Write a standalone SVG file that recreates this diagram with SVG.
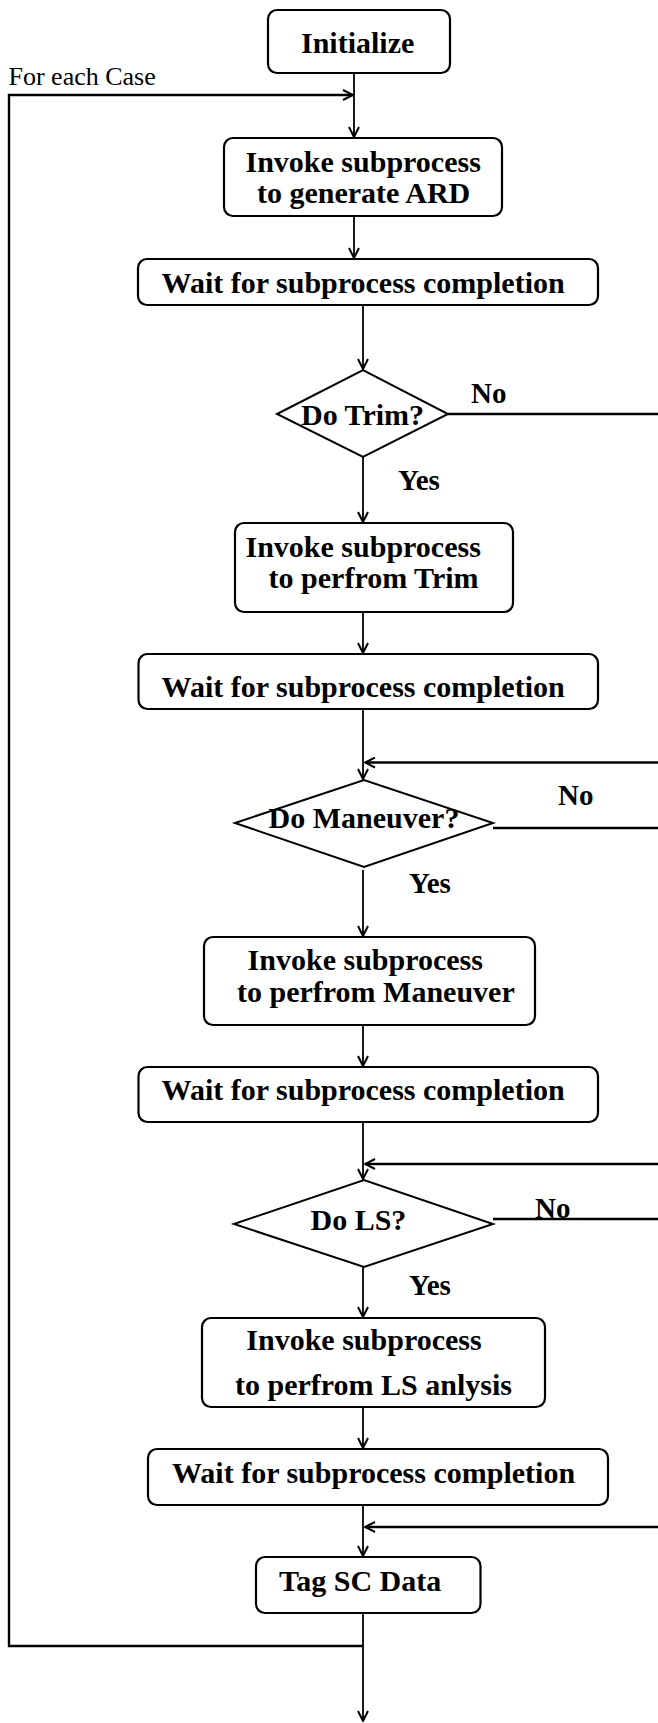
<svg xmlns="http://www.w3.org/2000/svg" width="658" height="1723" viewBox="0 0 658 1723">
<style>
.box{fill:#fff;stroke:#000;stroke-width:2.2}
.dia{fill:#fff;stroke:#000;stroke-width:2}
.t{font-family:"Liberation Serif","Times New Roman",serif;font-weight:bold;font-size:30px;fill:#000}
.lbl{font-family:"Liberation Serif","Times New Roman",serif;font-weight:bold;font-size:29px;fill:#000}
.reg{font-family:"Liberation Serif","Times New Roman",serif;font-size:26px;fill:#000}
.c{fill:none;stroke:#000;stroke-width:1.8}
.cb{fill:none;stroke:#000;stroke-width:2.4}
</style>
<defs>
<marker id="ah" markerWidth="12" markerHeight="12" refX="11" refY="6" orient="auto" markerUnits="userSpaceOnUse">
<path d="M1,1 L11,6 L1,11" fill="none" stroke="#000" stroke-width="2"/>
</marker>
</defs>
<rect width="658" height="1723" fill="#fff"/>
<g id="connectors">
<line class="c" x1="354" y1="74" x2="354" y2="137" marker-end="url(#ah)"/>
<polyline class="cb" points="363,1646 9,1646 9,95 353,95" marker-end="url(#ah)"/>
<line class="c" x1="354" y1="216" x2="354" y2="258" marker-end="url(#ah)"/>
<line class="c" x1="363" y1="305" x2="363" y2="369" marker-end="url(#ah)"/>
<line class="c" x1="363" y1="457" x2="363" y2="522" marker-end="url(#ah)"/>
<line class="cb" x1="448" y1="414" x2="658" y2="414"/>
<line class="c" x1="363" y1="612" x2="363" y2="653" marker-end="url(#ah)"/>
<line class="c" x1="363" y1="709" x2="363" y2="779" marker-end="url(#ah)"/>
<line class="cb" x1="658" y1="762.5" x2="365" y2="762.5" marker-end="url(#ah)"/>
<line class="cb" x1="493" y1="828" x2="658" y2="828"/>
<line class="c" x1="363" y1="870" x2="363" y2="936" marker-end="url(#ah)"/>
<line class="c" x1="363" y1="1025" x2="363" y2="1066" marker-end="url(#ah)"/>
<line class="c" x1="363" y1="1122" x2="363" y2="1179" marker-end="url(#ah)"/>
<line class="cb" x1="658" y1="1164" x2="365" y2="1164" marker-end="url(#ah)"/>
<line class="cb" x1="493" y1="1219" x2="658" y2="1219"/>
<line class="c" x1="363" y1="1267" x2="363" y2="1317" marker-end="url(#ah)"/>
<line class="c" x1="363" y1="1407" x2="363" y2="1448" marker-end="url(#ah)"/>
<line class="c" x1="363" y1="1505" x2="363" y2="1556" marker-end="url(#ah)"/>
<line class="cb" x1="658" y1="1527" x2="365" y2="1527" marker-end="url(#ah)"/>
<line class="c" x1="363" y1="1613" x2="363" y2="1721" marker-end="url(#ah)"/>
</g>
<text class="reg" x="8.5" y="85">For each Case</text>
<g id="initialize">
<rect class="box" x="268" y="10" width="182" height="63" rx="9"/>
<text class="t" x="301" y="53">Initialize</text>
</g>
<g id="invoke-ard">
<rect class="box" x="224" y="138" width="278" height="78" rx="9"/>
<text class="t" x="245.5" y="172">Invoke subprocess</text>
<text class="t" x="257" y="203">to generate ARD</text>
</g>
<g id="wait-1">
<rect class="box" x="138" y="259" width="460" height="46" rx="9"/>
<text class="t" x="161.6" y="293">Wait for subprocess completion</text>
</g>
<g id="do-trim">
<polygon class="dia" points="277,414 363,370 448,414 363,457"/>
<text class="t" x="301" y="425">Do Trim?</text>
<text class="lbl" x="471" y="403">No</text>
<text class="lbl" x="398" y="490">Yes</text>
</g>
<g id="invoke-trim">
<rect class="box" x="235" y="523" width="278" height="89" rx="9"/>
<text class="t" x="245.5" y="557">Invoke subprocess</text>
<text class="t" x="268.6" y="588">to perfrom Trim</text>
</g>
<g id="wait-2">
<rect class="box" x="138.5" y="654" width="459.5" height="55" rx="9"/>
<text class="t" x="161.6" y="697">Wait for subprocess completion</text>
</g>
<g id="do-maneuver">
<polygon class="dia" points="235,823 364,780 493,823 364,867"/>
<text class="t" x="268.6" y="828">Do Maneuver?</text>
<text class="lbl" x="558" y="805">No</text>
<text class="lbl" x="409" y="893">Yes</text>
</g>
<g id="invoke-maneuver">
<rect class="box" x="204" y="937" width="331" height="88" rx="9"/>
<text class="t" x="247.6" y="970">Invoke subprocess</text>
<text class="t" x="237" y="1002">to perfrom Maneuver</text>
</g>
<g id="wait-3">
<rect class="box" x="138.5" y="1067" width="459.5" height="55" rx="9"/>
<text class="t" x="161.6" y="1100">Wait for subprocess completion</text>
</g>
<g id="do-ls">
<polygon class="dia" points="234,1224 364,1180 493,1224 364,1267"/>
<text class="t" x="310.5" y="1230">Do LS?</text>
<text class="lbl" x="535" y="1218">No</text>
<text class="lbl" x="409" y="1295">Yes</text>
</g>
<g id="invoke-ls">
<rect class="box" x="202" y="1318" width="343" height="89" rx="9"/>
<text class="t" x="246.3" y="1350">Invoke subprocess</text>
<text class="t" x="235" y="1395">to perfrom LS anlysis</text>
</g>
<g id="wait-4">
<rect class="box" x="148" y="1449" width="460" height="56" rx="9"/>
<text class="t" x="172" y="1483">Wait for subprocess completion</text>
</g>
<g id="tag-sc-data">
<rect class="box" x="256" y="1557" width="224.5" height="56" rx="9"/>
<text class="t" x="279" y="1591">Tag SC Data</text>
</g>
</svg>
